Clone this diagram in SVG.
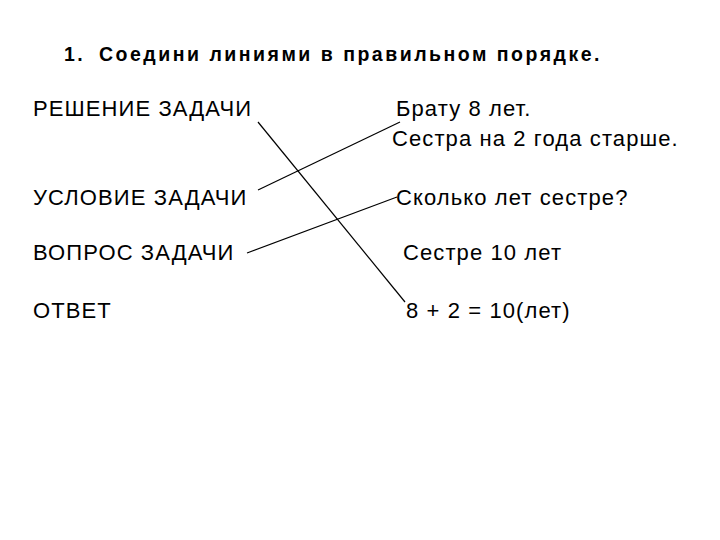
<svg xmlns="http://www.w3.org/2000/svg" width="720" height="540" viewBox="0 0 720 540">
<style>
text{font-family:"Liberation Sans",Arial,sans-serif;font-size:22px;letter-spacing:1.1px;fill:#000}
.t{font-weight:bold;font-size:19.5px;letter-spacing:2.5px}
line{stroke:#000;stroke-width:1.2}
</style>
<rect width="720" height="540" fill="#fff"/>
<g id="title"><text class="t" x="64" y="61">1.</text><text class="t" x="99" y="61">Соедини линиями в правильном порядке.</text></g>
<g id="reshenie"><text x="33" y="116">РЕШЕНИЕ ЗАДАЧИ</text></g>
<g id="uslovie"><text x="33" y="205">УСЛОВИЕ ЗАДАЧИ</text></g>
<g id="vopros"><text x="33" y="260">ВОПРОС ЗАДАЧИ</text></g>
<g id="otvet"><text x="33" y="318">ОТВЕТ</text></g>
<g id="bratu"><text x="396" y="116">Брату 8 лет.</text></g>
<g id="sestra"><text x="392" y="146">Сестра на 2 года старше.</text></g>
<g id="skolko"><text x="396" y="205">Сколько лет сестре?</text></g>
<g id="sestre"><text x="403" y="260">Сестре 10 лет</text></g>
<g id="calc"><text x="406" y="318">8 + 2 = 10(лет)</text></g>
<g id="connectors">
<line x1="258" y1="122" x2="405" y2="302"/>
<line x1="258" y1="190" x2="400" y2="122"/>
<line x1="247" y1="253" x2="397" y2="197"/>
</g>
</svg>
